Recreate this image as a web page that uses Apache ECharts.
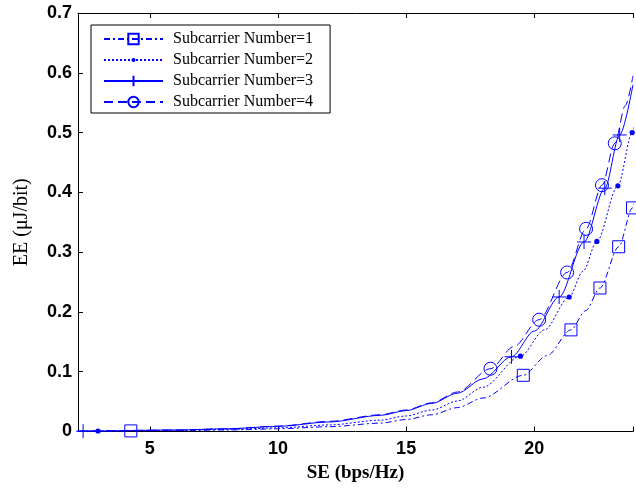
<!DOCTYPE html>
<html><head><meta charset="utf-8">
<script src="https://cdn.jsdelivr.net/npm/echarts@6/dist/echarts.min.js"></script>
<style>html,body{margin:0;padding:0;background:#fff}#c{width:636px;height:493px}</style>
</head><body><div id="c"></div><script>
const seriesNames = ['Subcarrier Number=1','Subcarrier Number=2','Subcarrier Number=3','Subcarrier Number=4'];
const yTickLabels = ['0','0.1','0.2','0.3','0.4','0.5','0.6','0.7'];
const xTickLabels = ['5','10','15','20'];

// Subcarrier Number=1 (squares)
const se1 = [2.2, 4.26, 6, 8, 10, 12, 14, 15, 16, 17, 18, 19.57, 20.5, 21.43, 22, 22.56, 23.29, 23.83, 24];
const ee1 = [0.0004, 0.001, 0.0015, 0.0025, 0.0045, 0.008, 0.014, 0.020, 0.028, 0.040, 0.056, 0.094, 0.127, 0.170, 0.202, 0.240, 0.309, 0.374, 0.40];
const mk1 = [0,1,0,0,0,0,0,0,0,0,0,1,0,1,0,1,1,1,0];
// Subcarrier Number=2 (dots)
const se2 = [2.2, 2.98, 6, 8, 10, 12, 14, 15, 16, 17, 18, 19.46, 20.4, 21.36, 21.9, 22.44, 23.26, 23.82, 24];
const ee2 = [0.0005, 0.0008, 0.002, 0.0035, 0.006, 0.011, 0.019, 0.026, 0.036, 0.051, 0.074, 0.126, 0.170, 0.225, 0.268, 0.318, 0.411, 0.500, 0.53];
const mk2 = [0,1,0,0,0,0,0,0,0,0,0,1,0,1,0,1,1,1,0];
// Subcarrier Number=3 (plus)
const se3 = [2.2, 2.4, 6, 8, 10, 12, 14, 15, 16, 17, 18, 19.11, 20.0, 20.97, 21.94, 22.75, 23.33, 23.85];
const ee3 = [0.0005, 0.0006, 0.0025, 0.0045, 0.0085, 0.016, 0.027, 0.035, 0.047, 0.064, 0.088, 0.125, 0.168, 0.225, 0.317, 0.407, 0.496, 0.58];
const mk3 = [0,1,0,0,0,0,0,0,0,0,0,1,0,1,1,1,1,0];
// Subcarrier Number=4 (circles)
const se4 = [2.2, 6, 8, 10, 12, 14, 15, 16, 17, 18.29, 19.2, 20.19, 21.28, 22.02, 22.64, 23.14, 23.55, 23.85];
const ee4 = [0.0005, 0.0025, 0.0045, 0.009, 0.017, 0.028, 0.036, 0.048, 0.066, 0.105, 0.142, 0.187, 0.266, 0.339, 0.412, 0.482, 0.545, 0.595];
const mk4 = [0,0,0,0,0,0,0,0,0,1,0,1,1,1,1,1,0,0];

const BLUE = '#0000ff';
function build(se, ee, mk) {
  return se.map((x, i) => mk[i] ? {value: [x, ee[i]]} : {value: [x, ee[i]], symbol: 'none'});
}
function mkSeries(name, se, ee, mk, symbol, size, hollow, dash) {
  return {
    name, type: 'line', data: build(se, ee, mk), smooth: 0.3, smoothMonotone: 'x',
    symbol, symbolSize: size, showAllSymbol: true, clip: true,
    lineStyle: {color: BLUE, width: 1, type: dash},
    itemStyle: {color: hollow ? 'rgba(255,255,255,0)' : BLUE, borderColor: BLUE, borderWidth: hollow ? 1 : 0},
    emphasis: {disabled: true}
  };
}
const chart = echarts.init(document.getElementById('c'), null, {renderer: 'canvas'});
const tickFont = {fontFamily: 'Liberation Sans, Arial', fontWeight: 'bold', fontSize: 18, color: '#000'};
const dotSymbol = 'path://M0,0M12,12M3.6,6A2.4,2.4,0,1,1,8.4,6A2.4,2.4,0,1,1,3.6,6Z';
chart.setOption({
  animation: false,
  backgroundColor: '#fff',
  grid: {left: 78, top: 13, right: 0, bottom: 61.5, containLabel: false},
  legend: {
    orient: 'vertical', left: 91, top: 25,
    padding: [6, 17, 3, 12], itemGap: 5, itemWidth: 59, itemHeight: 13,
    backgroundColor: '#fff', borderColor: '#000', borderWidth: 1,
    textStyle: {fontFamily: 'Liberation Serif, Times New Roman', fontSize: 16, lineHeight: 16, color: '#000', padding: [0, 0, 0, 5]},
    data: seriesNames
  },
  xAxis: [{
    type: 'value', min: 2.2, max: 23.85, splitNumber: 5, position: 'bottom',
    name: 'SE (bps/Hz)', nameLocation: 'middle', nameGap: 23,
    nameTextStyle: {fontFamily: 'Liberation Serif, Times New Roman', fontWeight: 'bold', fontSize: 19, color: '#000'},
    axisLine: {show: true, lineStyle: {color: '#000', width: 1}},
    axisTick: {show: true, inside: true, length: 5, lineStyle: {color: '#000'}},
    axisLabel: Object.assign({margin: 9, formatter: v => xTickLabels.indexOf(String(v)) >= 0 ? String(v) : ''}, tickFont),
    splitLine: {show: false}
  }, {
    type: 'value', min: 2.2, max: 23.85, splitNumber: 5, position: 'top',
    axisLine: {show: true, lineStyle: {color: '#000', width: 1}},
    axisTick: {show: true, inside: true, length: 5, lineStyle: {color: '#000'}},
    axisLabel: {show: false}, splitLine: {show: false}
  }],
  yAxis: {
    type: 'value', min: 0, max: 0.7, interval: 0.1,
    name: 'EE (\u03bcJ/bit)', nameLocation: 'middle', nameGap: 46, nameRotate: 90,
    nameTextStyle: {fontFamily: 'Liberation Serif, Times New Roman', fontSize: 20, color: '#000'},
    axisLine: {show: true, lineStyle: {color: '#000', width: 1}},
    axisTick: {show: true, inside: true, length: 5, lineStyle: {color: '#000'}},
    axisLabel: Object.assign({margin: 6, formatter: v => yTickLabels[Math.round(v * 10)]}, tickFont),
    splitLine: {show: false}
  },
  series: [
    mkSeries(seriesNames[0], se1, ee1, mk1, 'rect', 12, true, [6, 3, 2, 3]),
    mkSeries(seriesNames[1], se2, ee2, mk2, dotSymbol, 13, false, [2, 2]),
    mkSeries(seriesNames[2], se3, ee3, mk3, 'path://M5,0L5,10M0,5L10,5', 14, true, 'solid'),
    mkSeries(seriesNames[3], se4, ee4, mk4, 'circle', 13, true, [9, 5])
  ]
});
</script></body></html>
